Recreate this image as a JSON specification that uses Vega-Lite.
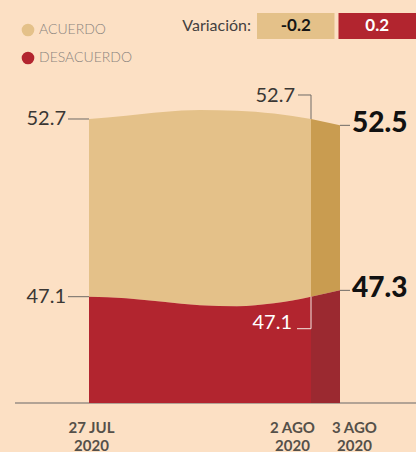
{
  "$schema": "https://vega.github.io/schema/vega-lite/v6.json",
  "width": 416,
  "height": 403,
  "autosize": {"type": "none"},
  "padding": {"left": 0, "top": 0, "right": 0, "bottom": 49},
  "background": "#FCE0C4",
  "config": {"view": {"stroke": null}, "font": "Lato"},
  "datasets": {
    "encuesta": [
      {"fecha": "2020-07-27", "acuerdo": 52.7, "desacuerdo": 47.1},
      {"fecha": "2020-07-28", "acuerdo": 52.8, "desacuerdo": 47.05},
      {"fecha": "2020-07-29", "acuerdo": 52.92, "desacuerdo": 46.94},
      {"fecha": "2020-07-30", "acuerdo": 52.98, "desacuerdo": 46.83},
      {"fecha": "2020-07-31", "acuerdo": 52.96, "desacuerdo": 46.8},
      {"fecha": "2020-08-01", "acuerdo": 52.87, "desacuerdo": 46.89},
      {"fecha": "2020-08-02", "acuerdo": 52.7, "desacuerdo": 47.1},
      {"fecha": "2020-08-03", "acuerdo": 52.5, "desacuerdo": 47.3}
    ],
    "variacion": [
      {"serie": "ACUERDO", "variacion": -0.2},
      {"serie": "DESACUERDO", "variacion": 0.2}
    ]
  },
  "layer": [
    {
      "data": {"name": "encuesta"},
      "encoding": {
        "x": {
          "field": "fecha",
          "type": "temporal",
          "scale": {
            "type": "utc",
            "domain": [
              {"year": 2020, "month": 7, "date": 27, "utc": true},
              {"year": 2020, "month": 8, "date": 3, "utc": true}
            ],
            "domainRaw": {"expr": "[utc(2020, 6, 27), utc(2020, 7, 2), utc(2020, 7, 3)]"},
            "range": [89, 311, 340],
            "nice": false
          },
          "axis": {
            "title": null,
            "values": [
              {"year": 2020, "month": 7, "date": 27, "utc": true},
              {"year": 2020, "month": 8, "date": 2, "utc": true},
              {"year": 2020, "month": 8, "date": 3, "utc": true}
            ],
            "domain": false,
            "ticks": false,
            "grid": false,
            "labelPadding": 17,
            "labelFont": "Lato",
            "labelFontSize": 15,
            "labelFontWeight": "bold",
            "labelColor": "#555049",
            "labelLineHeight": 18,
            "labelOverlap": false,
            "labelFlush": false,
            "labelExpr": "[utcdate(datum.value) + ' ' + (utcmonth(datum.value) == 6 ? 'JUL' : 'AGO'), '' + utcyear(datum.value)]",
            "labelOffset": {
              "condition": [
                {"test": "utcdate(datum.value) == 2", "value": -19},
                {"test": "utcdate(datum.value) == 3", "value": 14}
              ],
              "value": 2
            }
          }
        }
      },
      "layer": [
        {
          "transform": [{"filter": {"field": "fecha", "equal": {"year": 2020, "month": 7, "date": 27, "utc": true}}}],
          "mark": {"type": "rule", "color": "#9a8f86", "strokeWidth": 1.5},
          "encoding": {
            "x": {"datum": {"year": 2020, "month": 7, "date": 25, "utc": true}, "type": "temporal"},
            "x2": {"datum": {"year": 2020, "month": 8, "date": 7, "utc": true}},
            "y": {"datum": 43.75, "type": "quantitative", "scale": {"domain": [43.75, 56.45], "nice": false, "zero": false}, "axis": null}
          }
        },
        {
          "transform": [{"filter": {"field": "fecha", "lte": {"year": 2020, "month": 8, "date": 2, "utc": true}}}],
          "mark": {"type": "area", "interpolate": "monotone"},
          "encoding": {
            "y": {"field": "acuerdo", "type": "quantitative", "axis": null},
            "y2": {"field": "desacuerdo"},
            "color": {
              "datum": "ACUERDO",
              "type": "nominal",
              "scale": {"domain": ["ACUERDO", "DESACUERDO"], "range": ["#E4C189", "#B2252F"]},
              "legend": {
                "title": null,
                "orient": "none",
                "legendX": 21,
                "legendY": 23,
                "padding": 0,
                "symbolType": "circle",
                "symbolSize": 160,
                "symbolStrokeWidth": 0,
                "symbolOpacity": 1,
                "labelFont": "Lato",
                "labelFontSize": 14,
                "labelFontWeight": 300,
                "labelColor": "#8a847e",
                "labelOffset": 4,
                "rowPadding": 14
              }
            }
          }
        },
        {
          "transform": [{"filter": {"field": "fecha", "lte": {"year": 2020, "month": 8, "date": 2, "utc": true}}}],
          "mark": {"type": "area", "interpolate": "monotone"},
          "encoding": {
            "y": {"field": "desacuerdo", "type": "quantitative", "axis": null},
            "y2": {"datum": 43.75},
            "color": {"datum": "DESACUERDO", "type": "nominal"}
          }
        },
        {
          "transform": [{"filter": {"field": "fecha", "gte": {"year": 2020, "month": 8, "date": 2, "utc": true}}}],
          "mark": {"type": "area", "interpolate": "linear", "color": "#C99C50"},
          "encoding": {
            "y": {"field": "acuerdo", "type": "quantitative", "axis": null},
            "y2": {"field": "desacuerdo"}
          }
        },
        {
          "transform": [{"filter": {"field": "fecha", "gte": {"year": 2020, "month": 8, "date": 2, "utc": true}}}],
          "mark": {"type": "area", "interpolate": "linear", "color": "#9B2930"},
          "encoding": {
            "y": {"field": "desacuerdo", "type": "quantitative", "axis": null},
            "y2": {"datum": 43.75}
          }
        },
        {
          "transform": [
            {"filter": {"field": "fecha", "equal": {"year": 2020, "month": 7, "date": 27, "utc": true}}},
            {"fold": ["acuerdo", "desacuerdo"], "as": ["serie", "valor"]}
          ],
          "mark": {"type": "rule", "color": "#6e6a66", "strokeWidth": 1, "xOffset": -21, "x2Offset": 0},
          "encoding": {
            "x2": {"field": "fecha"},
            "y": {"field": "valor", "type": "quantitative", "axis": null}
          }
        },
        {
          "transform": [
            {"filter": {"field": "fecha", "equal": {"year": 2020, "month": 7, "date": 27, "utc": true}}},
            {"fold": ["acuerdo", "desacuerdo"], "as": ["serie", "valor"]}
          ],
          "mark": {"type": "text", "align": "right", "baseline": "middle", "dx": -23, "fontSize": 20, "color": "#3a3734"},
          "encoding": {
            "y": {"field": "valor", "type": "quantitative", "axis": null},
            "text": {"field": "valor", "type": "nominal"}
          }
        },
        {
          "transform": [
            {"filter": {"field": "fecha", "equal": {"year": 2020, "month": 8, "date": 3, "utc": true}}},
            {"fold": ["acuerdo", "desacuerdo"], "as": ["serie", "valor"]}
          ],
          "mark": {"type": "rule", "color": "#6e6a66", "strokeWidth": 1, "xOffset": 0, "x2Offset": 10},
          "encoding": {
            "x2": {"field": "fecha"},
            "y": {"field": "valor", "type": "quantitative", "axis": null}
          }
        },
        {
          "transform": [
            {"filter": {"field": "fecha", "equal": {"year": 2020, "month": 8, "date": 3, "utc": true}}},
            {"fold": ["acuerdo", "desacuerdo"], "as": ["serie", "valor"]}
          ],
          "mark": {"type": "text", "align": "left", "baseline": "middle", "dx": 12, "dy": -1, "fontSize": 28, "fontWeight": 900, "color": "#111111"},
          "encoding": {
            "y": {"field": "valor", "type": "quantitative", "axis": null},
            "text": {"field": "valor", "type": "nominal"}
          }
        },
        {
          "transform": [{"filter": {"field": "fecha", "equal": {"year": 2020, "month": 8, "date": 2, "utc": true}}}],
          "mark": {"type": "rule", "color": "#6e6a66", "strokeWidth": 1, "xOffset": -13, "yOffset": -24},
          "encoding": {
            "x2": {"field": "fecha"},
            "y": {"field": "acuerdo", "type": "quantitative", "axis": null}
          }
        },
        {
          "transform": [{"filter": {"field": "fecha", "equal": {"year": 2020, "month": 8, "date": 2, "utc": true}}}],
          "mark": {"type": "rule", "color": "#6e6a66", "strokeWidth": 1, "yOffset": -24},
          "encoding": {
            "y": {"field": "acuerdo", "type": "quantitative", "axis": null},
            "y2": {"field": "acuerdo"}
          }
        },
        {
          "transform": [{"filter": {"field": "fecha", "equal": {"year": 2020, "month": 8, "date": 2, "utc": true}}}],
          "mark": {"type": "text", "align": "right", "baseline": "middle", "dx": -16, "dy": -23, "fontSize": 20, "color": "#3a3734"},
          "encoding": {
            "y": {"field": "acuerdo", "type": "quantitative", "axis": null},
            "text": {"field": "acuerdo", "type": "nominal"}
          }
        },
        {
          "transform": [{"filter": {"field": "fecha", "equal": {"year": 2020, "month": 8, "date": 2, "utc": true}}}],
          "mark": {"type": "rule", "color": "#f3e6e0", "strokeWidth": 1, "xOffset": -14, "yOffset": 32},
          "encoding": {
            "x2": {"field": "fecha"},
            "y": {"field": "desacuerdo", "type": "quantitative", "axis": null}
          }
        },
        {
          "transform": [{"filter": {"field": "fecha", "equal": {"year": 2020, "month": 8, "date": 2, "utc": true}}}],
          "mark": {"type": "rule", "color": "#f3e6e0", "strokeWidth": 1, "y2Offset": 32},
          "encoding": {
            "y": {"field": "desacuerdo", "type": "quantitative", "axis": null},
            "y2": {"field": "desacuerdo"}
          }
        },
        {
          "transform": [{"filter": {"field": "fecha", "equal": {"year": 2020, "month": 8, "date": 2, "utc": true}}}],
          "mark": {"type": "text", "align": "right", "baseline": "middle", "dx": -19, "dy": 26, "fontSize": 20, "color": "#ffffff"},
          "encoding": {
            "y": {"field": "desacuerdo", "type": "quantitative", "axis": null},
            "text": {"field": "desacuerdo", "type": "nominal"}
          }
        }
      ]
    },
    {
      "data": {"name": "variacion"},
      "encoding": {
        "x": {
          "field": "serie",
          "type": "nominal",
          "scale": {"type": "band", "domain": ["ACUERDO", "DESACUERDO"], "range": [257, 416], "paddingInner": 0.049, "paddingOuter": 0},
          "axis": null
        },
        "y": {
          "datum": "Variación",
          "type": "nominal",
          "scale": {"type": "band", "range": [13, 39], "paddingInner": 0, "paddingOuter": 0},
          "axis": null
        }
      },
      "layer": [
        {
          "mark": {"type": "rect"},
          "encoding": {"color": {"field": "serie", "type": "nominal", "legend": null}}
        },
        {
          "mark": {"type": "text", "baseline": "middle", "fontSize": 17, "fontWeight": "bold"},
          "encoding": {
            "text": {"field": "variacion", "type": "nominal"},
            "color": {"condition": {"test": "datum.variacion < 0", "value": "#151515"}, "value": "#ffffff"}
          }
        },
        {
          "transform": [{"filter": "datum.serie == 'ACUERDO'"}],
          "mark": {"type": "text", "align": "right", "baseline": "middle", "dx": -6, "fontSize": 16, "color": "#444140"},
          "encoding": {
            "x": {"field": "serie", "type": "nominal", "bandPosition": 0},
            "text": {"value": "Variación:"}
          }
        }
      ]
    }
  ],
  "resolve": {"scale": {"x": "independent", "y": "independent"}}
}
